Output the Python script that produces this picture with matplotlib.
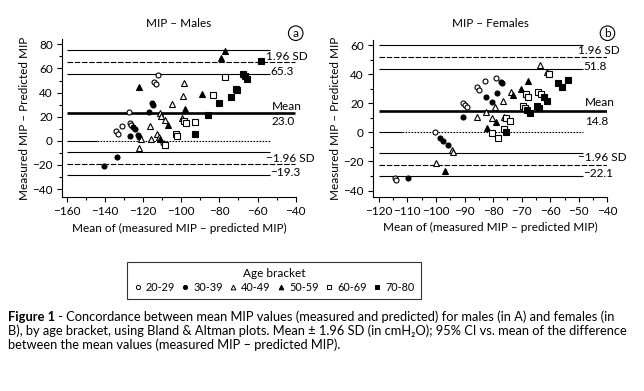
import matplotlib
matplotlib.use('Agg')
import matplotlib.pyplot as plt
from matplotlib.lines import Line2D
from matplotlib.ticker import MultipleLocator

plt.rcParams['font.family'] = ['Lato', 'DejaVu Sans']
plt.rcParams['axes.unicode_minus'] = True

AGE_GROUPS = ['20-29', '30-39', '40-49', '50-59', '60-69', '70-80']

# males: mean of (measured, predicted) vs difference, one pair of lists per age bracket
m_2029_x = [-112.1, -114.1, -113.4, -127.2, -127.0, -126.3, -131.3, -134.1, -132.9, -109.6]
m_2029_y = [54.5, 48.8, 46.8, 24.0, 14.5, 12.8, 12.2, 8.4, 5.6, -2.1]
m_3039_x = [-115.5, -114.9, -117.0, -125.4, -124.5, -126.8, -122.6, -121.9, -133.8, -140.3]
m_3039_y = [31.2, 29.4, 24.0, 11.2, 9.4, 3.8, 4.7, 3.0, -13.2, -20.6]
m_4049_x = [-98.7, -98.9, -104.8, -111.4, -110.7, -108.6, -99.4, -116.3, -121.1, -115.8, -112.9, -111.8, -122.0]
m_4049_y = [47.6, 37.1, 30.2, 22.7, 20.2, 17.2, 18.6, 12.2, 1.5, 1.6, 5.3, 2.9, -5.7]
m_5059_x = [-77.3, -79.2, -122.2, -89.2, -98.1, -106.8, -111.2]
m_5059_y = [74.7, 68.4, 44.6, 38.4, 26.1, 13.4, 1.8]
m_6069_x = [-77.2, -83.3, -98.4, -97.5, -92.9, -102.7, -102.2, -108.4]
m_6069_y = [53.2, 38.0, 16.7, 15.0, 15.8, 5.3, 3.8, -3.8]
m_7080_x = [-58.2, -67.7, -66.8, -65.8, -71.3, -70.6, -73.7, -80.4, -86.2, -93.0]
m_7080_y = [66.3, 55.8, 53.9, 51.5, 43.2, 42.3, 36.6, 31.0, 21.6, 5.9]

# females
f_2029_x = [-114.2, -113.8, -100.2, -90.7, -90.0, -89.3, -85.8, -85.1, -83.0, -79.0]
f_2029_y = [-31.5, -32.5, 0.0, 20.3, 18.8, 17.4, 30.9, 29.1, 35.4, 37.5]
f_3039_x = [-109.7, -98.4, -97.4, -95.9, -90.4, -82.4, -80.4, -78.8, -77.4, -76.9]
f_3039_y = [-31.2, -4.1, -6.0, -8.9, 10.3, 24.0, 20.6, 27.0, 34.8, 33.6]
f_4049_x = [-99.8, -94.5, -93.9, -85.8, -82.4, -80.3, -79.3, -76.4, -76.1, -73.9, -63.5, -61.0]
f_4049_y = [-20.9, -12.2, -13.3, 10.3, 14.2, 9.6, 17.6, 21.7, 10.7, 27.5, 46.2, 41.5]
f_5059_x = [-96.9, -82.0, -79.0, -72.9, -70.4, -67.8]
f_5059_y = [-26.6, 3.2, 6.9, 25.5, 29.7, 35.4]
f_6069_x = [-80.5, -78.2, -76.2, -75.5, -74.2, -69.4, -68.9, -68.4, -67.9, -64.2, -63.4, -60.3]
f_6069_y = [-0.2, -3.7, 2.0, 9.6, 8.0, 18.3, 16.9, 26.1, 24.5, 27.9, 26.1, 40.3]
f_7080_x = [-75.5, -68.1, -67.2, -64.6, -64.0, -62.3, -61.0, -57.3, -55.9, -53.8]
f_7080_y = [0.2, 15.3, 13.5, 18.3, 16.9, 24.0, 21.5, 33.6, 31.3, 36.1]

# Bland & Altman limits: mean, mean +/- 1.96 SD and the 95% CI of each limit
m_mean = 23.0
m_limits = [65.3, -19.3]
m_ci = [75.0, 55.6, -9.6, -28.7]
f_mean = 14.8
f_limits = [51.8, -22.1]
f_ci = [60.1, 43.4, -14.5, -30.3]

# marker, face colour, size per age bracket
STYLES = {'20-29': ('o', 'white', 3.6), '30-39': ('o', 'black', 3.6),
          '40-49': ('^', 'white', 4.0), '50-59': ('^', 'black', 4.0),
          '60-69': ('s', 'white', 3.8), '70-80': ('s', 'black', 3.8)}


def draw_panel(ax, xs, ys, mean, limits, ci, x0, x_short, x_long, x_solid0, lbl_x):
    for g, x, y in zip(AGE_GROUPS, xs, ys):
        mk, fc, ms = STYLES[g]
        ax.plot(x, y, linestyle='none', marker=mk, markerfacecolor=fc, markeredgecolor='black',
                markersize=ms, markeredgewidth=0.8, zorder=3)
    ax.hlines(ci, x0, x_short, color='black', lw=0.8, zorder=2)
    ax.hlines(limits, x0, x_long, color='black', lw=0.8, linestyles=[(0, (5, 1.5))], zorder=2)
    ax.hlines(mean, x0, x_long, color='black', lw=1.9, zorder=2)
    ax.hlines(0, x0, x_solid0, color='black', lw=0.8, zorder=2)
    ax.hlines(0, x_solid0, x_short, color='black', lw=0.8, linestyles=[(0, (1.5, 1.2))], zorder=2)

    fs = 8.5
    ax.text(lbl_x[0], limits[0] + 4.5, '1.96 SD', fontsize=fs, va='center', ha='left')
    ax.text(lbl_x[1], ci[1] + 2.2, '%.1f' % limits[0], fontsize=fs, va='center', ha='left')
    ax.text(lbl_x[2], mean + 5.5, 'Mean', fontsize=fs, va='center', ha='left')
    ax.text(lbl_x[2], mean - 7.0, '%.1f' % mean, fontsize=fs, va='center', ha='left')
    ax.text(lbl_x[0], limits[1] + 4.5, '\u22121.96 SD', fontsize=fs, va='center', ha='left')
    ax.text(lbl_x[1], ci[3] + 2.2, '\u2212%.1f' % abs(limits[1]), fontsize=fs, va='center', ha='left')

    for s in ['top', 'right']:
        ax.spines[s].set_visible(False)
    for s in ['left', 'bottom']:
        ax.spines[s].set_linewidth(0.8)
    ax.tick_params(which='major', direction='out', length=3.5, width=0.8, labelsize=8.5, pad=3)
    ax.tick_params(which='minor', direction='out', length=2.5, width=0.8)
    ax.set_xlabel('Mean of (measured MIP \u2013 predicted MIP)', fontsize=8.5, labelpad=4)
    ax.set_ylabel('Measured MIP \u2013 Predicted MIP', fontsize=8.5, labelpad=2)


fig = plt.figure(figsize=(6.44, 3.91), dpi=100)

ax1 = fig.add_axes([0.0963, 0.4964, 0.3629, 0.4026])
draw_panel(ax1, [m_2029_x, m_3039_x, m_4049_x, m_5059_x, m_6069_x, m_7080_x],
           [m_2029_y, m_3039_y, m_4049_y, m_5059_y, m_6069_y, m_7080_y],
           m_mean, m_limits, m_ci, -160, -53.5, -40.5, -144, [-55.6, -53.5, -52.6])
ax1.set_xlim(-162.5, -40)
ax1.set_ylim(-46.5, 84)
ax1.xaxis.set_major_locator(MultipleLocator(20))
ax1.xaxis.set_minor_locator(MultipleLocator(10))
ax1.yaxis.set_major_locator(MultipleLocator(20))
ax1.yaxis.set_minor_locator(MultipleLocator(10))
ax1.set_title('MIP \u2013 Males', fontsize=8.5, pad=9)

ax2 = fig.add_axes([0.5792, 0.4969, 0.3641, 0.402])
draw_panel(ax2, [f_2029_x, f_3039_x, f_4049_x, f_5059_x, f_6069_x, f_7080_x],
           [f_2029_y, f_3039_y, f_4049_y, f_5059_y, f_6069_y, f_7080_y],
           f_mean, f_limits, f_ci, -120, -48.5, -40.3, -112, [-50.4, -48.4, -47.8])
ax2.set_xlim(-122, -40)
ax2.set_ylim(-44.2, 63.8)
ax2.xaxis.set_major_locator(MultipleLocator(10))
ax2.xaxis.set_minor_locator(MultipleLocator(5))
ax2.yaxis.set_major_locator(MultipleLocator(20))
ax2.yaxis.set_minor_locator(MultipleLocator(10))
ax2.set_title('MIP \u2013 Females', fontsize=8.5, pad=9)

# circled panel letters
for ax, letter in [(ax1, 'a'), (ax2, 'b')]:
    ax.text(1.0, 1.04, letter, transform=ax.transAxes, fontsize=8.5, ha='center', va='center',
            bbox=dict(boxstyle='circle,pad=0.15', facecolor='white', edgecolor='black', lw=0.8))

handles = []
for g in AGE_GROUPS:
    mk, fc, ms = STYLES[g]
    handles.append(Line2D([], [], linestyle='none', marker=mk, markerfacecolor=fc,
                          markeredgecolor='black', markersize=ms - 0.6, markeredgewidth=0.7))
leg = fig.legend(handles, AGE_GROUPS, title='Age bracket', ncol=6, fontsize=7.8, title_fontsize=8.5,
                 loc='center', bbox_to_anchor=(0.4255, 0.2826), frameon=True, fancybox=False,
                 edgecolor='black', handlelength=0.7, handletextpad=0.4, columnspacing=0.6,
                 borderpad=0.6, labelspacing=0.25)
leg.get_frame().set_linewidth(0.8)

# caption: bold figure number then the running text
cap_fs = 9.3
y1 = 1 - 317 / 391
t1 = fig.text(0.0125, y1, 'Figure 1', fontsize=cap_fs, fontweight='bold', va='center')
fig.canvas.draw()
x_after = t1.get_window_extent().x1 / fig.bbox.width
fig.text(x_after, y1, ' - Concordance between mean MIP values (measured and predicted) for males (in A) and females (in',
         fontsize=cap_fs, va='center')
fig.text(0.0125, 1 - 331 / 391,
         'B), by age bracket, using Bland & Altman plots. Mean \u00b1 1.96 SD (in cmH\u2082O); 95% CI vs. mean of the difference',
         fontsize=cap_fs, va='center')
fig.text(0.0125, 1 - 345 / 391, 'between the mean values (measured MIP \u2013 predicted MIP).',
         fontsize=cap_fs, va='center')

plt.savefig('out.png', dpi=100)
